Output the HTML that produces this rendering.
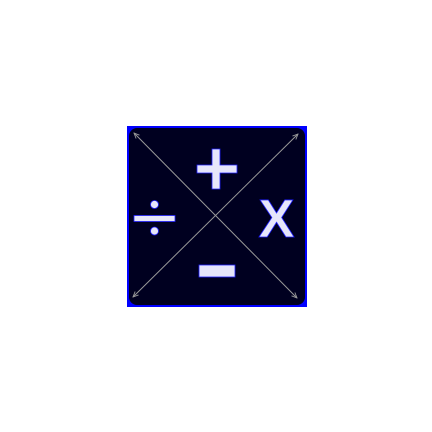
<!DOCTYPE html>
<html><head><style>body{margin:0;background:#fff}svg{display:block}</style></head>
<body>
<svg width="432" height="432" viewBox="0 0 432 432">
<defs><marker id="ah" viewBox="0 0 10 10" refX="9" refY="5" markerWidth="6" markerHeight="6" orient="auto-start-reverse"><path d="M0,1 L9,5 L0,9" fill="none" stroke="#999" stroke-width="1.5"/></marker></defs>
<rect x="127" y="126" width="180" height="181" fill="#0000ff"/>
<rect x="129" y="128" width="176" height="177" rx="8" fill="#000020"/>
<line x1="134" y1="133" x2="297" y2="298" stroke="#999" stroke-width="1" marker-start="url(#ah)" marker-end="url(#ah)"/>
<line x1="298" y1="134" x2="133" y2="297" stroke="#999" stroke-width="1" marker-start="url(#ah)" marker-end="url(#ah)"/>
<g fill="#e6e6fa" stroke="#2020ff" stroke-width="0.8">
<path d="M212,149 H220 V165 H237 V173 H220 V189 H212 V173 H197 V165 H212 Z"/>
<g>
<rect x="134" y="215.5" width="41" height="6"/>
<circle cx="154.5" cy="204.5" r="4"/>
<circle cx="154.5" cy="231" r="4"/>
</g>
<rect x="199" y="265" width="36" height="12"/>
<text x="276.5" y="237" font-family="Liberation Sans, sans-serif" font-weight="bold" font-size="54" text-anchor="middle">X</text>
</g>
</svg>
</body></html>
